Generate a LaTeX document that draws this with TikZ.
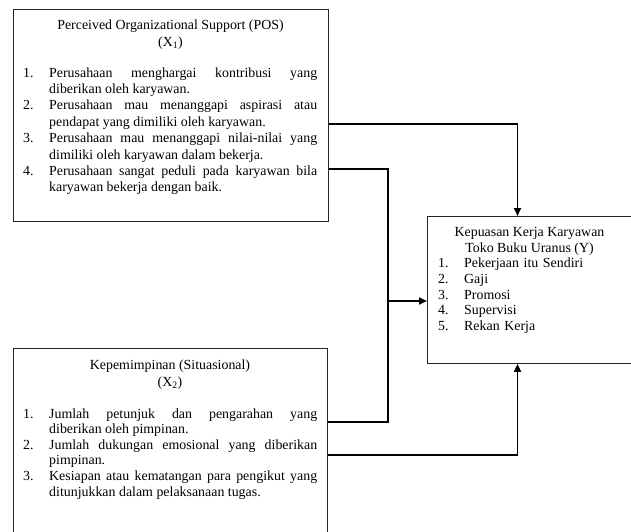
\documentclass[tikz,border=0pt]{standalone}
\usepackage{fontspec}
\setmainfont{Liberation Serif}
\usetikzlibrary{arrows.meta}
\newcommand{\itm}[1]{\hangindent=26pt\hangafter=1\noindent\makebox[26pt][l]{#1}}
\begin{document}
\begin{tikzpicture}[x=1pt,y=1pt,
  box/.style={draw=black!85, line width=0.9pt, inner sep=0pt, rectangle},
  conn/.style={line width=1.8pt, draw=black},
  arr/.style={conn, -{Triangle[length=8pt,width=7pt]}},
  txt/.style={font=\fontsize{13.9}{16.4}\selectfont, inner sep=0pt},
  txtb/.style={font=\fontsize{13.9}{15.6}\selectfont, inner sep=0pt},
  txtr/.style={font=\fontsize{13.9}{15.8}\selectfont, inner sep=0pt},
]
\useasboundingbox (0,0) rectangle (631,-531);
% boxes
\node[box, minimum width=315pt, minimum height=212pt, anchor=north west] (pos) at (13,-9) {};
\node[box, minimum width=314pt, minimum height=200pt, anchor=north west] (lead) at (13,-348) {};
\node[box, minimum width=205pt, minimum height=147pt, anchor=north west] (kk) at (427,-216) {};
% top box text
\node[txt, anchor=base] (posT) at (170.5,-29.5) {Perceived Organizational Support (POS)};
\node[txt, anchor=base] (posX) at (170.5,-46.5) {(X\textsubscript{1})};
\node[txt, anchor=base west, text width=294pt, align=justify] (posL) at (23,-77) {%
\tolerance=10000\hbadness=10000
\itm{1.}Perusahaan menghargai kontribusi yang\linebreak diberikan oleh karyawan.\par
\itm{2.}Perusahaan mau menanggapi aspirasi atau\linebreak pendapat yang dimiliki oleh karyawan.\par
\itm{3.}Perusahaan mau menanggapi nilai-nilai yang\linebreak dimiliki oleh karyawan dalam bekerja.\par
\itm{4.}Perusahaan sangat peduli pada karyawan bila\linebreak karyawan bekerja dengan baik.\par};
% bottom box text
\node[txtb, anchor=base] (leadT) at (170,-369.5) {Kepemimpinan (Situasional)};
\node[txtb, anchor=base] (leadX) at (170,-386) {(X\textsubscript{2})};
\node[txtb, anchor=base west, text width=294pt, align=justify] (leadL) at (23,-418) {%
\tolerance=10000\hbadness=10000
\itm{1.}Jumlah petunjuk dan pengarahan yang\linebreak diberikan oleh pimpinan.\par
\itm{2.}Jumlah dukungan emosional yang diberikan\linebreak pimpinan.\par
\itm{3.}Kesiapan atau kematangan para pengikut yang\linebreak ditunjukkan dalam pelaksanaan tugas.\par};
% right box text
\node[txtr, anchor=base] (kkT1) at (529.5,-236.5) {Kepuasan Kerja Karyawan};
\node[txtr, anchor=base] (kkT2) at (529.5,-252.5) {Toko Buku Uranus (Y)};
\node[txtr, anchor=base west, text width=185pt, align=left] (kkL) at (438,-267.5) {%
\itm{1.}Pekerjaan itu Sendiri\par
\itm{2.}Gaji\par
\itm{3.}Promosi\par
\itm{4.}Supervisi\par
\itm{5.}Rekan Kerja\par};
% connector junctions
\coordinate (a1) at (517.5,-124);
\coordinate (m1) at (388,-169);
\coordinate (m2) at (388,-422);
\coordinate (m) at (388,-301);
\coordinate (b1) at (517.5,-455);
% connectors
\draw[arr] (pos.east |- a1) -- (a1) -- (kk.north -| a1);
\draw[conn] (pos.east |- m1) -- (m1) -- (m2) -- (lead.east |- m2);
\draw[arr] (m) -- (kk.west |- m);
\draw[arr] (lead.east |- b1) -- (b1) -- (kk.south -| b1);
\end{tikzpicture}
\end{document}
